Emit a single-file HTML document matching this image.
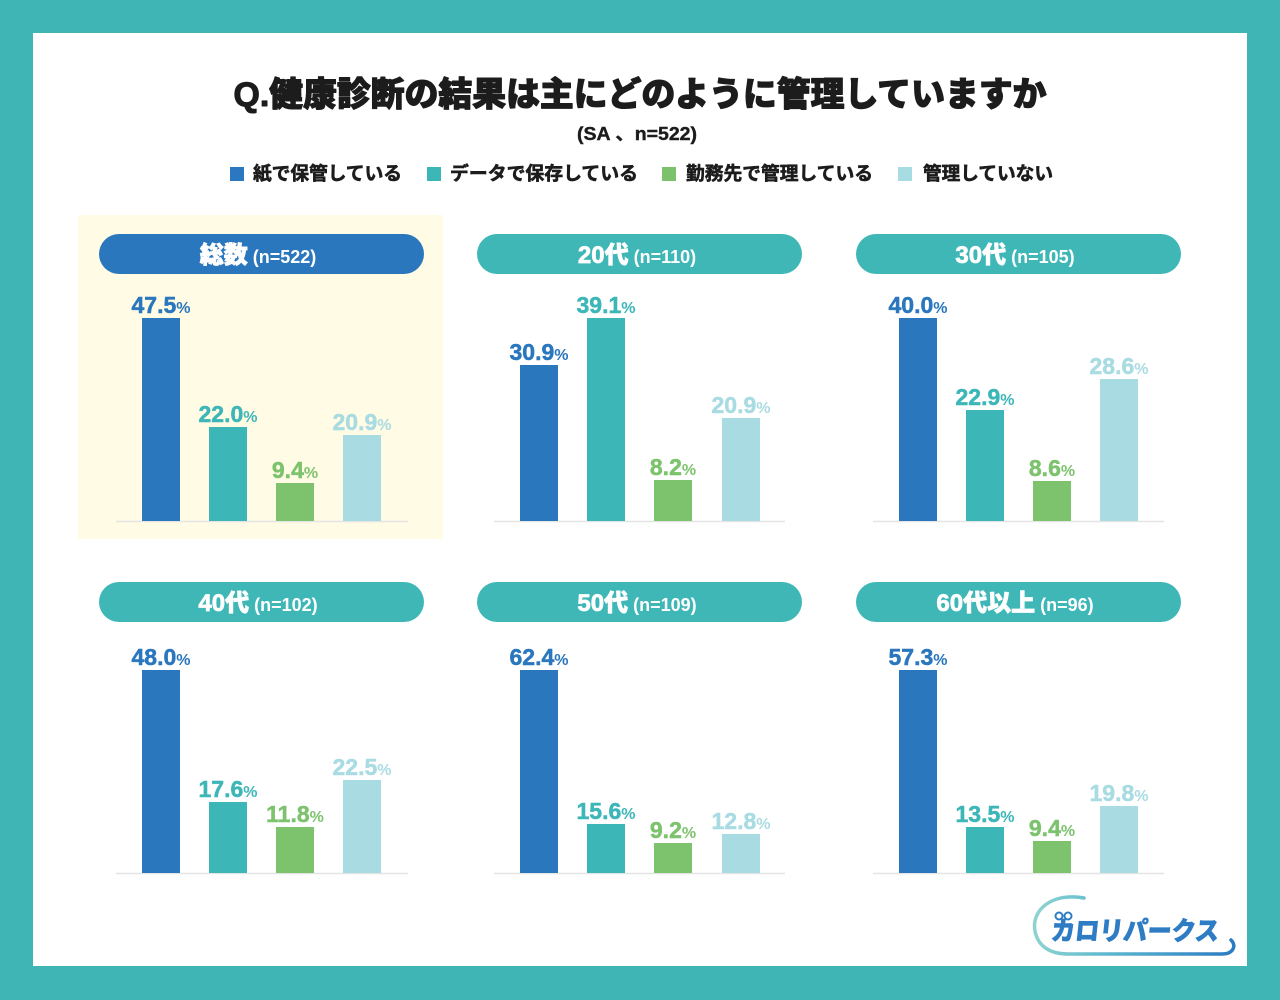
<!DOCTYPE html>
<html><head><meta charset="utf-8"><style>
html,body{margin:0;padding:0;background:#3fb5b5;}
svg{display:block;}
text{font-family:"Liberation Sans","Noto Sans CJK JP",sans-serif;}
</style></head><body>
<svg width="1280" height="1000" viewBox="0 0 1280 1000" xmlns="http://www.w3.org/2000/svg">
<defs>
<linearGradient id="lg" x1="0" y1="0" x2="1" y2="0">
<stop offset="0" stop-color="#8fd3d0"/><stop offset="0.35" stop-color="#5fb9cf"/><stop offset="1" stop-color="#2b7bc3"/>
</linearGradient>
</defs>
<rect x="0" y="0" width="1280" height="1000" fill="#3fb5b5"/>
<rect x="33" y="33" width="1214" height="933" fill="#ffffff"/>

<!-- Title -->
<text x="640" y="106" text-anchor="middle" font-size="34" font-weight="900" fill="#1c1c1c" stroke="#1c1c1c" stroke-width="1.1" stroke-linejoin="round" textLength="813" lengthAdjust="spacingAndGlyphs">Q.健康診断の結果は主にどのように管理していますか</text>
<text x="637" y="140" text-anchor="middle" font-size="18" font-weight="700" fill="#1c1c1c" stroke="#1c1c1c" stroke-width="0.4" textLength="120" lengthAdjust="spacingAndGlyphs">(SA 、n=522)</text>

<!-- Legend -->
<g stroke="#1c1c1c" stroke-width="0.6" stroke-linejoin="round">
<rect x="230" y="167" width="14" height="14" fill="#2b77c0" stroke="none"/>
<text x="253" y="180" font-size="18.7" font-weight="700" fill="#1c1c1c" textLength="149" lengthAdjust="spacingAndGlyphs">紙で保管している</text>
<rect x="427" y="167" width="14" height="14" fill="#3cb6b6" stroke="none"/>
<text x="450" y="180" font-size="18.7" font-weight="700" fill="#1c1c1c" textLength="188" lengthAdjust="spacingAndGlyphs">データで保存している</text>
<rect x="662" y="167" width="14" height="14" fill="#7cc26c" stroke="none"/>
<text x="686" y="180" font-size="18.7" font-weight="700" fill="#1c1c1c" textLength="187" lengthAdjust="spacingAndGlyphs">勤務先で管理している</text>
<rect x="898" y="167" width="14" height="14" fill="#a8dce3" stroke="none"/>
<text x="923" y="180" font-size="18.7" font-weight="700" fill="#1c1c1c" textLength="130" lengthAdjust="spacingAndGlyphs">管理していない</text>
</g>

<!-- Highlight panel 1 -->
<rect x="78" y="215" width="365" height="324" fill="#fffbe4"/>

<!-- Pills -->
<rect x="99" y="234" width="325" height="40" rx="20" ry="20" fill="#2a77be"/>
<text x="258" y="263" text-anchor="middle" fill="#ffffff" font-weight="700"><tspan font-size="24" font-weight="900" stroke="#ffffff" stroke-width="0.7">総数</tspan><tspan font-size="18"> (n=522)</tspan></text>
<rect x="477" y="234" width="325" height="40" rx="20" ry="20" fill="#3fb7b7"/>
<text x="637" y="263" text-anchor="middle" fill="#ffffff" font-weight="700"><tspan font-size="24" font-weight="900" stroke="#ffffff" stroke-width="0.7">20代</tspan><tspan font-size="18"> (n=110)</tspan></text>
<rect x="856" y="234" width="325" height="40" rx="20" ry="20" fill="#3fb7b7"/>
<text x="1015" y="263" text-anchor="middle" fill="#ffffff" font-weight="700"><tspan font-size="24" font-weight="900" stroke="#ffffff" stroke-width="0.7">30代</tspan><tspan font-size="18"> (n=105)</tspan></text>

<rect x="99" y="582" width="325" height="40" rx="20" ry="20" fill="#3fb7b7"/>
<text x="258" y="611" text-anchor="middle" fill="#ffffff" font-weight="700"><tspan font-size="24" font-weight="900" stroke="#ffffff" stroke-width="0.7">40代</tspan><tspan font-size="18"> (n=102)</tspan></text>
<rect x="477" y="582" width="325" height="40" rx="20" ry="20" fill="#3fb7b7"/>
<text x="637" y="611" text-anchor="middle" fill="#ffffff" font-weight="700"><tspan font-size="24" font-weight="900" stroke="#ffffff" stroke-width="0.7">50代</tspan><tspan font-size="18"> (n=109)</tspan></text>
<rect x="856" y="582" width="325" height="40" rx="20" ry="20" fill="#3fb7b7"/>
<text x="1015" y="611" text-anchor="middle" fill="#ffffff" font-weight="700"><tspan font-size="24" font-weight="900" stroke="#ffffff" stroke-width="0.7">60代以上</tspan><tspan font-size="18"> (n=96)</tspan></text>

<!-- Baselines -->
<g stroke="#e4e4e4" stroke-width="1.5">
<line x1="116" y1="521.5" x2="408" y2="521.5"/>
<line x1="494" y1="521.5" x2="785" y2="521.5"/>
<line x1="873" y1="521.5" x2="1164" y2="521.5"/>
<line x1="116" y1="873.5" x2="408" y2="873.5"/>
<line x1="494" y1="873.5" x2="785" y2="873.5"/>
<line x1="873" y1="873.5" x2="1164" y2="873.5"/>
</g>

<!-- Panel 1 bars -->
<rect x="142" y="318" width="38" height="203" fill="#2a77be"/>
<rect x="209" y="427" width="38" height="94" fill="#3db6b8"/>
<rect x="276" y="483" width="38" height="38" fill="#7dc36e"/>
<rect x="343" y="435" width="38" height="86" fill="#a8dce2"/>
<!-- Panel 2 bars -->
<rect x="520" y="365" width="38" height="156" fill="#2a77be"/>
<rect x="587" y="318" width="38" height="203" fill="#3db6b8"/>
<rect x="654" y="480" width="38" height="41" fill="#7dc36e"/>
<rect x="722" y="418" width="38" height="103" fill="#a8dce2"/>
<!-- Panel 3 bars -->
<rect x="899" y="318" width="38" height="203" fill="#2a77be"/>
<rect x="966" y="410" width="38" height="111" fill="#3db6b8"/>
<rect x="1033" y="481" width="38" height="40" fill="#7dc36e"/>
<rect x="1100" y="379" width="38" height="142" fill="#a8dce2"/>
<!-- Panel 4 bars -->
<rect x="142" y="670" width="38" height="203" fill="#2a77be"/>
<rect x="209" y="802" width="38" height="71" fill="#3db6b8"/>
<rect x="276" y="827" width="38" height="46" fill="#7dc36e"/>
<rect x="343" y="780" width="38" height="93" fill="#a8dce2"/>
<!-- Panel 5 bars -->
<rect x="520" y="670" width="38" height="203" fill="#2a77be"/>
<rect x="587" y="824" width="38" height="49" fill="#3db6b8"/>
<rect x="654" y="843" width="38" height="30" fill="#7dc36e"/>
<rect x="722" y="834" width="38" height="39" fill="#a8dce2"/>
<!-- Panel 6 bars -->
<rect x="899" y="670" width="38" height="203" fill="#2a77be"/>
<rect x="966" y="827" width="38" height="46" fill="#3db6b8"/>
<rect x="1033" y="841" width="38" height="32" fill="#7dc36e"/>
<rect x="1100" y="806" width="38" height="67" fill="#a8dce2"/>

<!-- Value labels -->
<g font-weight="700" text-anchor="middle" stroke-width="0.5">
<text x="161" y="313" fill="#2a77be" stroke="#2a77be"><tspan font-size="23">47.5</tspan><tspan font-size="16" stroke-width="0">%</tspan></text>
<text x="228" y="422" fill="#3db6b8" stroke="#3db6b8"><tspan font-size="23">22.0</tspan><tspan font-size="16" stroke-width="0">%</tspan></text>
<text x="295" y="478" fill="#7dc36e" stroke="#7dc36e"><tspan font-size="23">9.4</tspan><tspan font-size="16" stroke-width="0">%</tspan></text>
<text x="362" y="430" fill="#a8dce2" stroke="#a8dce2"><tspan font-size="23">20.9</tspan><tspan font-size="16" stroke-width="0">%</tspan></text>

<text x="539" y="360" fill="#2a77be" stroke="#2a77be"><tspan font-size="23">30.9</tspan><tspan font-size="16" stroke-width="0">%</tspan></text>
<text x="606" y="313" fill="#3db6b8" stroke="#3db6b8"><tspan font-size="23">39.1</tspan><tspan font-size="16" stroke-width="0">%</tspan></text>
<text x="673" y="475" fill="#7dc36e" stroke="#7dc36e"><tspan font-size="23">8.2</tspan><tspan font-size="16" stroke-width="0">%</tspan></text>
<text x="741" y="413" fill="#a8dce2" stroke="#a8dce2"><tspan font-size="23">20.9</tspan><tspan font-size="16" stroke-width="0">%</tspan></text>

<text x="918" y="313" fill="#2a77be" stroke="#2a77be"><tspan font-size="23">40.0</tspan><tspan font-size="16" stroke-width="0">%</tspan></text>
<text x="985" y="405" fill="#3db6b8" stroke="#3db6b8"><tspan font-size="23">22.9</tspan><tspan font-size="16" stroke-width="0">%</tspan></text>
<text x="1052" y="476" fill="#7dc36e" stroke="#7dc36e"><tspan font-size="23">8.6</tspan><tspan font-size="16" stroke-width="0">%</tspan></text>
<text x="1119" y="374" fill="#a8dce2" stroke="#a8dce2"><tspan font-size="23">28.6</tspan><tspan font-size="16" stroke-width="0">%</tspan></text>

<text x="161" y="665" fill="#2a77be" stroke="#2a77be"><tspan font-size="23">48.0</tspan><tspan font-size="16" stroke-width="0">%</tspan></text>
<text x="228" y="797" fill="#3db6b8" stroke="#3db6b8"><tspan font-size="23">17.6</tspan><tspan font-size="16" stroke-width="0">%</tspan></text>
<text x="295" y="822" fill="#7dc36e" stroke="#7dc36e"><tspan font-size="23">11.8</tspan><tspan font-size="16" stroke-width="0">%</tspan></text>
<text x="362" y="775" fill="#a8dce2" stroke="#a8dce2"><tspan font-size="23">22.5</tspan><tspan font-size="16" stroke-width="0">%</tspan></text>

<text x="539" y="665" fill="#2a77be" stroke="#2a77be"><tspan font-size="23">62.4</tspan><tspan font-size="16" stroke-width="0">%</tspan></text>
<text x="606" y="819" fill="#3db6b8" stroke="#3db6b8"><tspan font-size="23">15.6</tspan><tspan font-size="16" stroke-width="0">%</tspan></text>
<text x="673" y="838" fill="#7dc36e" stroke="#7dc36e"><tspan font-size="23">9.2</tspan><tspan font-size="16" stroke-width="0">%</tspan></text>
<text x="741" y="829" fill="#a8dce2" stroke="#a8dce2"><tspan font-size="23">12.8</tspan><tspan font-size="16" stroke-width="0">%</tspan></text>

<text x="918" y="665" fill="#2a77be" stroke="#2a77be"><tspan font-size="23">57.3</tspan><tspan font-size="16" stroke-width="0">%</tspan></text>
<text x="985" y="822" fill="#3db6b8" stroke="#3db6b8"><tspan font-size="23">13.5</tspan><tspan font-size="16" stroke-width="0">%</tspan></text>
<text x="1052" y="836" fill="#7dc36e" stroke="#7dc36e"><tspan font-size="23">9.4</tspan><tspan font-size="16" stroke-width="0">%</tspan></text>
<text x="1119" y="801" fill="#a8dce2" stroke="#a8dce2"><tspan font-size="23">19.8</tspan><tspan font-size="16" stroke-width="0">%</tspan></text>
</g>

<!-- Logo -->
<path d="M1084,898 C1052,892 1031,910 1035,931 C1038,947 1051,954 1068,954 L1222,954 C1233,954 1237,946 1231,940" fill="none" stroke="url(#lg)" stroke-width="3.5" stroke-linecap="round"/>
<text x="1050" y="940" font-size="26" font-weight="900" fill="#2e7cc4" stroke="#2e7cc4" stroke-width="0.6" textLength="168" lengthAdjust="spacingAndGlyphs" transform="skewX(-6) translate(99,0)">カロリパークス</text>
<circle cx="1059" cy="916" r="3.5" fill="#ffffff" stroke="#2e7cc4" stroke-width="2"/>
<circle cx="1068" cy="916" r="3.5" fill="#ffffff" stroke="#2e7cc4" stroke-width="2"/>
</svg>
</body></html>
